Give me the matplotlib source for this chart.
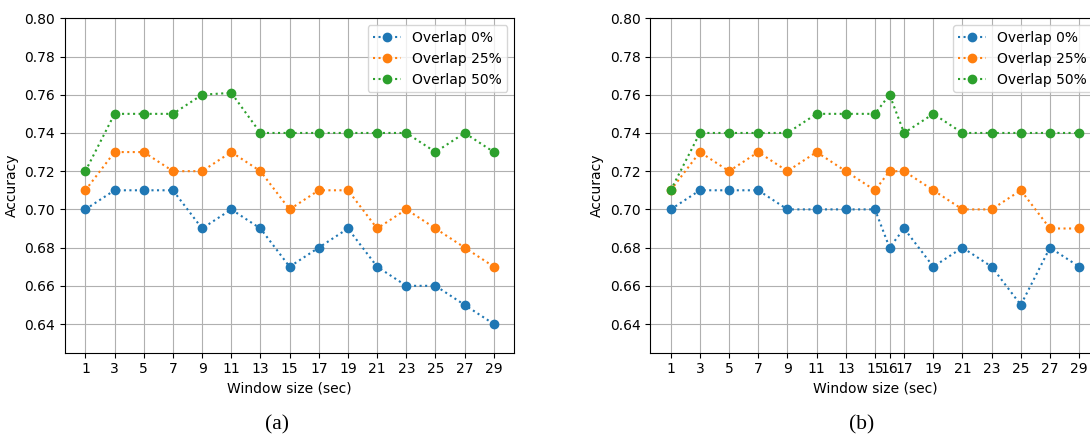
import numpy as np
from matplotlib import pyplot as plt

# window sizes (sec)
win_a = [1, 3, 5, 7, 9, 11, 13, 15, 17, 19, 21, 23, 25, 27, 29]
win_b = [1, 3, 5, 7, 9, 11, 13, 15, 16, 17, 19, 21, 23, 25, 27, 29]

# accuracy, setup (a)
acc_a_0 = [0.70, 0.71, 0.71, 0.71, 0.69, 0.70, 0.69, 0.67, 0.68, 0.69, 0.67, 0.66, 0.66, 0.65, 0.64]
acc_a_25 = [0.71, 0.73, 0.73, 0.72, 0.72, 0.73, 0.72, 0.70, 0.71, 0.71, 0.69, 0.70, 0.69, 0.68, 0.67]
acc_a_50 = [0.72, 0.75, 0.75, 0.75, 0.76, 0.761, 0.74, 0.74, 0.74, 0.74, 0.74, 0.74, 0.73, 0.74, 0.73]

# accuracy, setup (b)
acc_b_0 = [0.70, 0.71, 0.71, 0.71, 0.70, 0.70, 0.70, 0.70, 0.68, 0.69, 0.67, 0.68, 0.67, 0.65, 0.68, 0.67]
acc_b_25 = [0.71, 0.73, 0.72, 0.73, 0.72, 0.73, 0.72, 0.71, 0.72, 0.72, 0.71, 0.70, 0.70, 0.71, 0.69, 0.69]
acc_b_50 = [0.71, 0.74, 0.74, 0.74, 0.74, 0.75, 0.75, 0.75, 0.76, 0.74, 0.75, 0.74, 0.74, 0.74, 0.74, 0.74]

labels = ['Overlap 0%', 'Overlap 25%', 'Overlap 50%']
yticks = [0.64, 0.66, 0.68, 0.70, 0.72, 0.74, 0.76, 0.78, 0.80]

fig = plt.figure(figsize=(10.9, 4.37), dpi=100)
ax1 = fig.add_axes([0.0596, 0.1929, 0.4122, 0.7652])
ax2 = fig.add_axes([0.5966, 0.1929, 0.4122, 0.7652])


def draw(ax, x, series):
    for y, lab in zip(series, labels):
        ax.plot(x, y, linestyle=':', marker='o', label=lab)
    ax.set_xticks(x)
    ax.set_yticks(yticks)
    ax.set_ylim(0.625, 0.80)
    ax.grid(True)
    ax.set_xlabel('Window size (sec)')
    ax.set_ylabel('Accuracy')
    ax.legend(loc='upper right')


draw(ax1, win_a, [acc_a_0, acc_a_25, acc_a_50])
draw(ax2, win_b, [acc_b_0, acc_b_25, acc_b_50])

# sub-captions
fig.text(277 / 1090, 1 - 425 / 437, '(a)', family='Liberation Serif', fontsize=15.5,
         ha='center', va='center')
fig.text(862 / 1090, 1 - 425 / 437, '(b)', family='Liberation Serif', fontsize=15.5,
         ha='center', va='center')

fig.savefig('out.png', dpi=100)
